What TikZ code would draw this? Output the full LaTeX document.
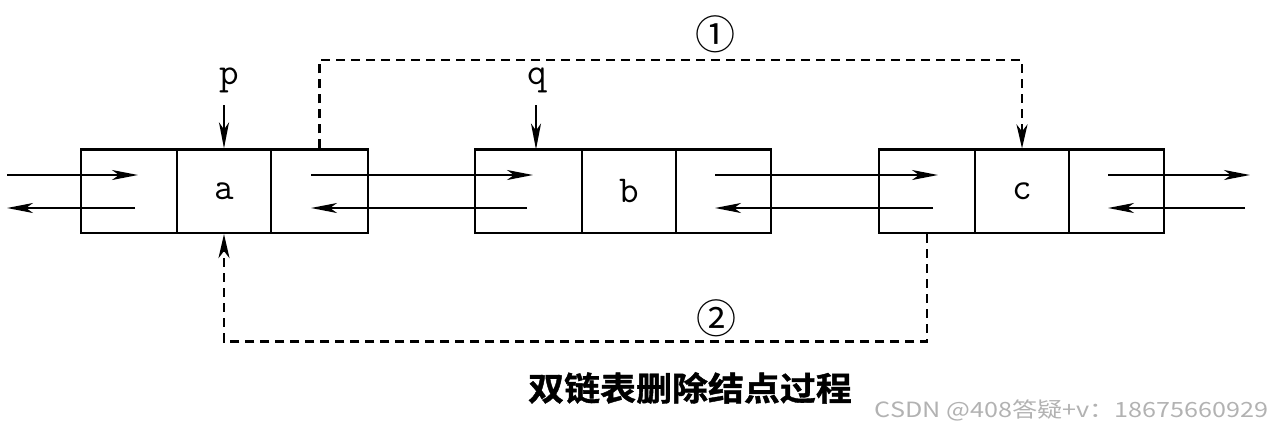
\documentclass[tikz,border=0pt]{standalone}
\usepackage{fontspec}
\usetikzlibrary{arrows.meta}
\newfontfamily\cjk{Noto Sans CJK SC}
\newfontfamily\cjkbold[FakeBold=1.2]{Noto Sans CJK SC Bold}
\begin{document}
\begin{tikzpicture}[x=1pt,y=-1pt,
  cell/.style={draw,line width=2.2pt,minimum height=83.5pt,inner sep=0pt,font=\ttfamily\fontsize{38}{38}\selectfont},
  arr/.style={line width=2pt,-{Stealth[length=26pt,width=10pt,inset=7pt]}},
  dlink/.style={line width=2.4pt,dash pattern=on 9pt off 6pt,-{Stealth[length=24pt,width=11pt,inset=7pt]}},
  ptr/.style={font=\ttfamily\fontsize{38}{38}\selectfont,inner sep=0pt},
  num/.style={font=\cjk\fontsize{40}{40}\selectfont,inner sep=0pt}]
\useasboundingbox (0,0) rectangle (1276,429);
% node a
\node[cell,minimum width=96pt] (aL) at (129,191.25) {};
\node[cell,minimum width=94pt] (aD) at (224,191.25) {a};
\node[cell,minimum width=97pt] (aR) at (319.5,191.25) {};
% node b
\node[cell,minimum width=107pt] (bL) at (528.5,191.25) {};
\node[cell,minimum width=94pt] (bD) at (629,191.25) {b};
\node[cell,minimum width=95pt] (bR) at (723.5,191.25) {};
% node c
\node[cell,minimum width=96pt] (cL) at (927,191.25) {};
\node[cell,minimum width=94pt] (cD) at (1022,191.25) {c};
\node[cell,minimum width=95pt] (cR) at (1116.5,191.25) {};
% link end points
\coordinate (inA) at (7,175);
\coordinate (aNextTip) at (138,175);
\coordinate (aPrevStart) at (135,208);
\coordinate (outA) at (7,208);
\coordinate (aNext) at (311,175);
\coordinate (bPrevTip) at (533,175);
\coordinate (bPrev) at (527,208);
\coordinate (aPrevTip) at (311,208);
\coordinate (bNext) at (715,175);
\coordinate (cPrevTip) at (938,175);
\coordinate (cPrev) at (933,208);
\coordinate (bNextTip) at (715,208);
\coordinate (cNext) at (1108,175);
\coordinate (outC) at (1250,175);
\coordinate (inC) at (1245,208);
\coordinate (cNextTip) at (1108,208);
\draw[arr] (inA) -- (aNextTip);
\draw[arr] (aPrevStart) -- (outA);
\draw[arr] (aNext) -- (bPrevTip);
\draw[arr] (bPrev) -- (aPrevTip);
\draw[arr] (bNext) -- (cPrevTip);
\draw[arr] (cPrev) -- (bNextTip);
\draw[arr] (cNext) -- (outC);
\draw[arr] (inC) -- (cNextTip);
% pointers
\node[ptr] (p) at (229,80) {p};
\coordinate (pTail) at (224,105);
\draw[arr] (pTail) -- (aD.north);
\node[ptr] (q) at (537,80) {q};
\coordinate (qTail) at (536,105);
\coordinate (qTip) at (536,149.5);
\draw[arr] (qTail) -- (qTip);
% dashed relinks
\coordinate (top1) at (670,60);
\draw[dlink] (aR.north) |- (top1) -| (cD.north);
\node[num] (n1) at (715,34) {①};
\coordinate (bot2) at (575,341.5);
\draw[dlink] (cL.south) |- (bot2) -| (aD.south);
\node[num] (n2) at (716,318) {②};
% caption
\node[font=\cjkbold\fontsize{33}{33}\selectfont,inner sep=0pt,xscale=1.09] (title) at (690,388) {双链表删除结点过程};
\node[font=\cjk\fontsize{21}{21}\selectfont,text=black!30,inner sep=0pt,anchor=east,xscale=1.2] (wm) at (1269,410) {CSDN @408答疑+v：18675660929};
\end{tikzpicture}
\end{document}
